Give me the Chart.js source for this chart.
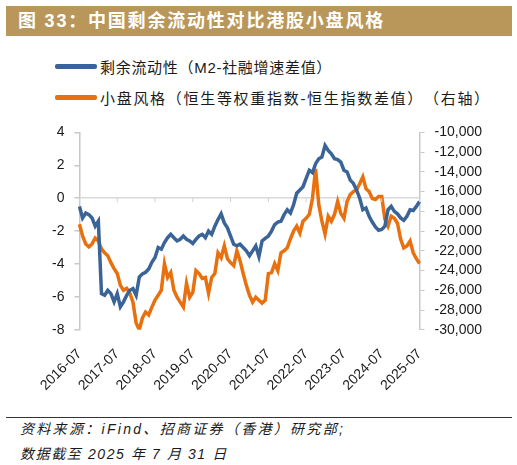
<!DOCTYPE html>
<html>
<head>
<meta charset="utf-8">
<script src="https://cdn.jsdelivr.net/npm/chart.js@4.4.1/dist/chart.umd.min.js"></script>
<style>
  body { margin: 0; width: 517px; height: 465px; background: #fff; position: relative; overflow: hidden;
         font-family: "Liberation Sans", "Noto Sans CJK SC", sans-serif; color: #1a1a1a;
         text-spacing-trim: space-all; }
  #title { position: absolute; left: 6px; top: 6px; width: 506px; height: 30px; background: #b9975a;
           color: #fff; font-weight: bold; font-size: 18px; letter-spacing: 1.8px; line-height: 30px;
           padding-left: 12px; box-sizing: border-box; }
  #legend { position: absolute; left: 55px; top: 51px; font-size: 15px; }
  .item { height: 31px; display: flex; align-items: center; }
  .swatch { width: 42px; height: 5px; border-radius: 2px; margin-right: 3px; }
  #box { position: absolute; left: 0; top: 114px; width: 517px; height: 288px; }
  #rule { position: absolute; left: 6px; top: 417px; width: 506px; height: 1px; background: #333; }
  .src { position: absolute; left: 20px; font-size: 14px; font-style: italic; letter-spacing: 2.3px; }
</style>
</head>
<body>
<div id="title">图 33：中国剩余流动性对比港股小盘风格</div>
<div id="legend"></div>
<div id="box"><canvas id="chart" width="517" height="288"></canvas></div>
<div id="rule"></div>
<div class="src" style="top:418px">资料来源：iFind、招商证券（香港）研究部;</div>
<div class="src" style="top:443px; letter-spacing: 1.6px">数据截至 2025 年 7 月 31 日</div>
<script>
  // monthly categories 2016-07 .. 2025-07
  const months = [];
  for (let y = 2016; y <= 2025; y++) {
      for (let m = 1; m <= 12; m++) {
          if ((y === 2016 && m < 7) || (y === 2025 && m > 7)) continue;
          months.push(y + '-' + String(m).padStart(2, '0'));
      }
  }
  const tickLabels = ['2016-07', '2017-07', '2018-07', '2019-07', '2020-07',
                      '2021-07', '2022-07', '2023-07', '2024-07', '2025-07'];

  // 剩余流动性 (left axis)
  const liquidity = [
      -0.5, -1.2, -0.9, -1.0, -1.2, -1.7, -1.4, -5.8, -5.9, -5.6,
      -5.8, -6.3, -5.8, -6.6, -6.3, -5.9, -5.6, -5.5, -5.9, -4.8,
      -4.6, -4.5, -4.3, -3.9, -3.6, -3.0, -3.1, -2.7, -2.4, -2.2,
      -2.4, -2.6, -2.5, -2.3, -2.5, -2.6, -2.75, -2.5, -2.3, -2.2,
      -2.4, -2.0, -2.2, -1.7, -1.3, -0.95, -1.5, -1.8, -2.3, -2.8,
      -2.9, -2.8, -3.0, -3.2, -3.5, -3.2, -2.9, -3.55, -2.6, -2.45,
      -2.3, -2.0, -1.6, -1.45, -1.4, -1.0, -0.7, -0.9, -0.4, 0.3,
      0.5, 0.7, 1.2, 1.7, 1.55, 2.1, 2.4, 2.5, 3.2, 2.9,
      2.7, 2.4, 2.35, 2.2, 1.7, 1.6, 1.1, 0.9, 0.5, 0.0,
      -0.7, -0.6, -1.1, -1.45, -1.75, -1.95, -1.9, -1.7, -0.7, -0.5,
      -0.8, -0.95, -1.2, -1.35, -1.1, -0.7, -0.75, -0.5, -0.2
  ];

  // 小盘风格 (right axis)
  const smallCap = [
      -19300, -20500, -21300, -21600, -21300, -20700, -21000, -21800, -22200, -22500,
      -23200, -23800, -24300, -25500, -26000, -25800, -26300, -27200, -29300, -30000,
      -28800, -28200, -28500, -27700, -27000, -26500, -26000, -23300, -24700, -24200,
      -26000, -26700, -27200, -27700, -25300, -26700, -26200, -24000, -24300, -24800,
      -24700, -26300, -24700, -24300, -22200, -22700, -21500, -22800, -23200, -23500,
      -22000, -23000, -24300, -25500, -26500, -27200, -26700, -27000, -27300, -27000,
      -24300, -24200, -23300, -24000, -22200, -22000, -21700, -20800, -20000, -19500,
      -20200, -19000, -18700, -18300, -16700, -13700, -17300, -19000, -20300, -18500,
      -19000, -18300, -17000, -18200, -18700, -17000, -16300, -16000, -15800, -15200,
      -14500, -15700, -16000, -16700, -16800, -16500, -16500, -18800, -19500, -18500,
      -18700, -19200, -20800, -21700, -21500, -21000, -22200, -22800, -23300
  ];

  const seriesNames = ['剩余流动性（M2-社融增速差值）', '小盘风格（恒生等权重指数-恒生指数差值）（右轴）'];
  const seriesColors = ['#3a6497', '#e8700f'];
  const legendSpacing = ['0.7px', '1.7px'];

  const legend = document.getElementById('legend');
  seriesNames.forEach((name, i) => {
      const row = document.createElement('div');
      row.className = 'item';
      row.style.letterSpacing = legendSpacing[i];
      row.innerHTML = '<span class="swatch" style="background:' + seriesColors[i] + '"></span>' + name;
      legend.appendChild(row);
  });

  // small ticks on the zero line at each year label
  const zeroTicks = {
      id: 'zeroTicks',
      afterDatasetsDraw(chart) {
          const c = chart.ctx, x = chart.scales.x, y = chart.scales.y;
          const y0 = y.getPixelForValue(0);
          c.save();
          c.strokeStyle = '#d0d0d0';
          c.lineWidth = 1;
          tickLabels.forEach(lab => {
              const px = x.getPixelForValue(months.indexOf(lab));
              c.beginPath();
              c.moveTo(px, y0);
              c.lineTo(px, y0 + 4);
              c.stroke();
          });
          c.restore();
      }
  };

  const font = { family: '"Liberation Sans", "Noto Sans CJK SC", sans-serif', size: 14 };
  const ctx = document.getElementById('chart').getContext('2d');
  new Chart(ctx, {
      type: 'line',
      data: {
          labels: months,
          datasets: [{
              label: seriesNames[0],
              data: liquidity,
              borderColor: seriesColors[0],
              borderWidth: 3.5,
              pointRadius: 0,
              yAxisID: 'y'
          }, {
              label: seriesNames[1],
              data: smallCap,
              borderColor: seriesColors[1],
              borderWidth: 3.5,
              pointRadius: 0,
              yAxisID: 'y1'
          }]
      },
      options: {
          responsive: false,
          animation: false,
          layout: { padding: { left: 42, right: 25, top: 0, bottom: 0 } },
          plugins: { legend: { display: false }, tooltip: { enabled: false } },
          scales: {
              x: {
                  grid: { display: false },
                  border: { display: false },
                  ticks: {
                      autoSkip: false,
                      maxRotation: 45,
                      minRotation: 45,
                      padding: 8,
                      color: '#1a1a1a',
                      font: font,
                      callback: function (v) {
                          const lab = this.getLabelForValue(v);
                          return tickLabels.includes(lab) ? lab : '';
                      }
                  }
              },
              y: {
                  position: 'left',
                  min: -8,
                  max: 4,
                  ticks: { stepSize: 2, autoSkip: false, color: '#1a1a1a', font: font, padding: 10 },
                  border: { color: '#c8c8c8', width: 1.5 },
                  grid: {
                      tickLength: 5,
                      tickColor: '#c8c8c8',
                      color: c => c.tick && c.tick.value === 0 ? '#d9d9d9' : 'transparent',
                      lineWidth: 1.5
                  }
              },
              y1: {
                  position: 'right',
                  min: -30000,
                  max: -10000,
                  ticks: {
                      stepSize: 2000,
                      autoSkip: false,
                      color: '#1a1a1a',
                      font: font,
                      padding: 10,
                      callback: v => v.toLocaleString('en-US')
                  },
                  border: { color: '#c8c8c8', width: 1.5 },
                  grid: { drawOnChartArea: false, tickLength: 5, tickColor: '#c8c8c8' }
              }
          }
      },
      plugins: [zeroTicks]
  });
</script>
</body>
</html>
